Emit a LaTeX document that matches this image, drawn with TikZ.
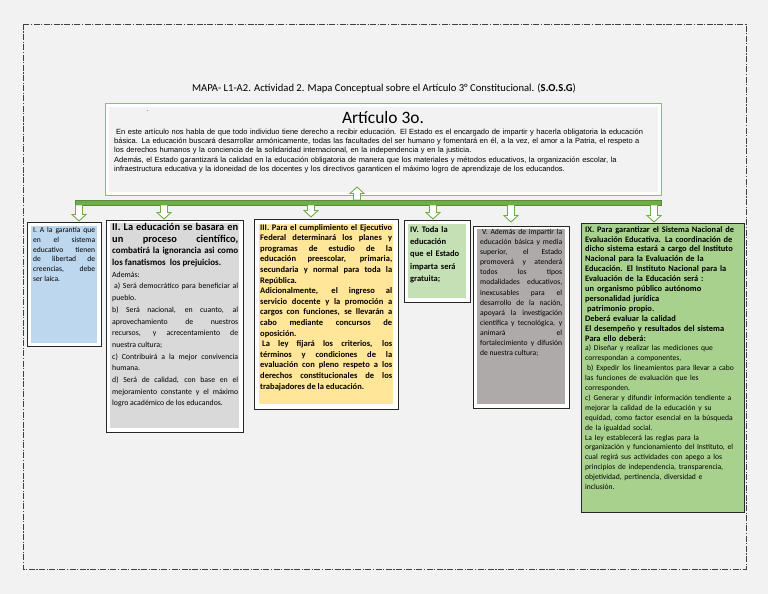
\documentclass[tikz,border=0pt]{standalone}
\usepackage{fontspec}
\setmainfont{Carlito}
\newfontfamily\arialf{Liberation Sans}
\tolerance=10000 \hbadness=10000 \vbadness=10000 \hfuzz=30pt \vfuzz=30pt
\definecolor{bgc}{HTML}{F2F2F2}
\definecolor{grn}{HTML}{70AD47}
\definecolor{grnl}{HTML}{8CC063}
\definecolor{blu}{HTML}{BDD7EE}
\definecolor{gry}{HTML}{D9D9D9}
\definecolor{yel}{HTML}{FFE699}
\definecolor{lgr}{HTML}{C5E0B4}
\definecolor{dgy}{HTML}{AEAAAA}
\definecolor{mgr}{HTML}{A9D18E}
\newcommand\DownArr[3]{% x, top y, tip y
  \draw[blkarrow] ({#1-3.5},#2) -- ({#1+3.5},#2) -- ({#1+3.5},{#3-6.5}) -- ({#1+7},{#3-6.5}) -- (#1,#3) -- ({#1-7},{#3-6.5}) -- ({#1-3.5},{#3-6.5}) -- cycle;}
\newcommand\UpArr[3]{% x, bottom y, tip y
  \draw[blkarrow] ({#1-3.5},#2) -- ({#1+3.5},#2) -- ({#1+3.5},{#3+6.5}) -- ({#1+7},{#3+6.5}) -- (#1,#3) -- ({#1-7},{#3+6.5}) -- ({#1-3.5},{#3+6.5}) -- cycle;}
\begin{document}
\begin{tikzpicture}[x=1pt,y=-1pt,
  boxframe/.style={draw=black!85, line width=1pt, fill=white, anchor=north west, inner sep=0pt},
  boxfill/.style={anchor=north west, inner sep=0pt, draw=none},
  txt/.style={anchor=north west, inner sep=0pt, align=justify},
  txtl/.style={anchor=north west, inner sep=0pt, align=left},
  blkarrow/.style={draw=grn, fill=white, line width=0.9pt, line join=miter},
]
\useasboundingbox (0,0) rectangle (768,594);
\fill[bgc] (0,0) rectangle (768,594);
% outer dash-dot frame
\draw[black!75, line width=0.9pt, dash pattern=on 6pt off 1.5pt on 1.2pt off 1.5pt] (23,24) rectangle (746,569);

% title
\node[inner sep=0pt, font=\fontsize{10.6}{12}\selectfont] (title) at (384,88)
  {MAPA- L1-A2. Actividad 2. Mapa Conceptual sobre el Artículo 3° Constitucional. (\textbf{S.O.S.G})};

% top box
\node[draw=grnl, line width=1.2pt, fill=white, anchor=north west, inner sep=0pt, minimum width=556, minimum height=92] (top) at (105,103) {};
\node[boxfill, fill=bgc, minimum width=549, minimum height=85] (topin) at (108.5,106.5) {};
\node[inner sep=0pt, font=\fontsize{17.4}{20}\selectfont] (art) at (383,118) {Artículo 3o.};
\node[inner sep=0pt, font=\fontsize{6}{7}\selectfont] (dot) at (148,111) {.};
\node[txtl, text width=548, font=\arialf\fontsize{7.5}{9.3}\selectfont] (para) at (114,128.5)
  {\hspace*{2pt}En este artículo nos habla de que todo individuo tiene derecho a recibir educación. El Estado es el encargado de impartir y hacerla obligatoria la educación\\
  básica. La educación buscará desarrollar armónicamente, todas las facultades del ser humano y fomentará en él, a la vez, el amor a la Patria, el respeto a\\
  los derechos humanos y la conciencia de la solidaridad internacional, en la independencia y en la justicia.\\
  Además, el Estado garantizará la calidad en la educación obligatoria de manera que los materiales y métodos educativos, la organización escolar, la\\
  infraestructura educativa y la idoneidad de los docentes y los directivos garanticen el máximo logro de aprendizaje de los educandos.};

% bar and arrows
\UpArr{357}{200}{187}
\node[fill=grn, draw=grn!80!black, line width=0.4pt, anchor=north west, inner sep=0pt, minimum width=586, minimum height=5] (bar) at (75,200) {};
\DownArr{79}{205}{221}
\DownArr{164}{205}{219}
\DownArr{311}{205}{217}
\DownArr{433}{205}{219}
\DownArr{511}{205}{222}
\DownArr{654}{205}{222}

% Box I
\node[boxframe, minimum width=74, minimum height=124] (b1) at (27,222) {};
\node[boxfill, fill=blu, minimum width=66, minimum height=117] (b1in) at (31,226) {};
\node[txt, text width=62, font=\fontsize{7.6}{9.8}\selectfont] (t1) at (33,227)
  {I. A la garantía que\linebreak en el sistema\linebreak educativo tienen\linebreak de libertad de\linebreak creencias, debe\linebreak ser laica.};

% Box II
\node[boxframe, minimum width=137, minimum height=212] (b2) at (106,220) {};
\node[boxfill, fill=gry, minimum width=129, minimum height=205] (b2in) at (110,223) {};
\node[txt, text width=126, font=\fontsize{10.4}{11.7}\selectfont] (t2) at (112,223)
  {\bfseries II. La educación se basara en\linebreak un proceso científico,\linebreak
   \fontsize{9}{11.7}\selectfont combatirá la ignorancia asi como\linebreak los fanatismos \ los prejuicios.\par
   \mdseries\fontsize{7.8}{9.5}\selectfont Además:\\
   \hspace*{2pt}a) Será democrático para beneficiar al\linebreak pueblo.\\
   b) Será nacional, en cuanto, al\linebreak aprovechamiento de nuestros\linebreak recursos, y acrecentamiento de\linebreak nuestra cultura;\\
   c) Contribuirá a la mejor convivencia\linebreak humana.\\
   d) Será de calidad, con base en el\linebreak mejoramiento constante y el máximo\linebreak logro académico de los educandos.};

% Box III
\node[boxframe, minimum width=144, minimum height=190] (b3) at (254,219) {};
\node[boxfill, fill=yel, minimum width=134, minimum height=180] (b3in) at (259,224) {};
\node[txt, text width=132, font=\bfseries\fontsize{8.5}{10.6}\selectfont] (t3) at (260,224)
  {III. Para el cumplimiento el Ejecutivo\linebreak Federal determinará los planes y\linebreak programas de estudio de la\linebreak educación preescolar, primaria,\linebreak secundaria y normal para toda la\linebreak República.\\
   Adicionalmente, el ingreso al\linebreak servicio docente y la promoción a\linebreak cargos con funciones, se llevarán a\linebreak cabo mediante concursos de\linebreak oposición.\\
   \hspace*{2pt}La ley fijará los criterios, los\linebreak términos y condiciones de la\linebreak evaluación con pleno respeto a los\linebreak derechos constitucionales de los\linebreak trabajadores de la educación.};

% Box IV
\node[boxframe, minimum width=66, minimum height=82] (b4) at (404,220) {};
\node[boxfill, fill=lgr, minimum width=58, minimum height=74] (b4in) at (408,224) {};
\node[txtl, text width=56, font=\bfseries\fontsize{8.5}{12.3}\selectfont] (t4) at (410,226)
  {IV. Toda la\\ educación\\ que el Estado\\ imparta será\\ gratuita;};

% Box V
\node[boxframe, minimum width=96, minimum height=182] (b5) at (473,226) {};
\node[boxfill, fill=dgy, minimum width=88, minimum height=175] (b5in) at (477,229) {};
\node[txt, text width=82, font=\fontsize{7.6}{10.1}\selectfont] (t5) at (480,229)
  {\hspace*{2pt}V. Además de impartir la\linebreak educación básica y media\linebreak superior, el Estado\linebreak promoverá y atenderá\linebreak todos los tipos\linebreak modalidades educativos,\linebreak inexcusables para el\linebreak desarrollo de la nación,\linebreak apoyará la investigación\linebreak científica y tecnológica, y\linebreak animará el\linebreak fortalecimiento y difusión\linebreak de nuestra cultura;};

% Box IX
\node[boxframe, fill=mgr, minimum width=163, minimum height=289] (b9) at (581,223) {};
\node[txtl, text width=160, font=\fontsize{8.4}{9.9}\selectfont] (t9) at (585,226)
  {\bfseries IX. Para garantizar el Sistema Nacional de\\ Evaluación Educativa. La coordinación de\\ dicho sistema estará a cargo del Instituto\\ Nacional para la Evaluación de la\\ Educación. El Instituto Nacional para la\\ Evaluación de la Educación será :\\ un organismo público autónomo\\ personalidad jurídica\\ \hspace*{2pt}patrimonio propio.\\ Deberá evaluar la calidad\\ El desempeño y resultados del sistema\\ Para ello deberá:\\
   \mdseries\fontsize{7.6}{9.9}\selectfont a) Diseñar y realizar las mediciones que\\ correspondan a componentes,\\ \hspace*{2pt}b) Expedir los lineamientos para llevar a cabo\\ las funciones de evaluación que les\\ corresponden.\\ c) Generar y difundir información tendiente a\\ mejorar la calidad de la educación y su\\ equidad, como factor esencial en la búsqueda\\ de la igualdad social.\\ La ley establecerá las reglas para la\\ organización y funcionamiento del Instituto, el\\ cual regirá sus actividades con apego a los\\ principios de independencia, transparencia,\\ objetividad, pertinencia, diversidad e\\ inclusión.};
\end{tikzpicture}
\end{document}
